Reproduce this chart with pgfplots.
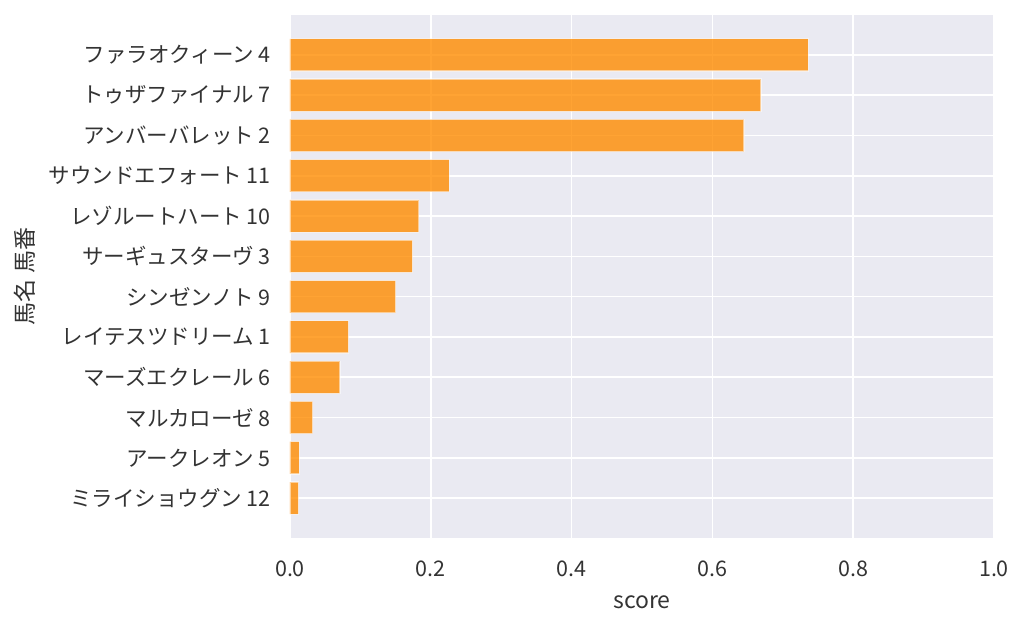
\documentclass[border=0pt]{standalone}
\usepackage{fontspec}
\setmainfont{Noto Sans CJK JP}
\usepackage{pgfplots}
\pgfplotsset{compat=1.18}
\definecolor{bgc}{RGB}{234,234,242}
\definecolor{barc}{RGB}{255,140,0}
\begin{document}
\begin{tikzpicture}
\path[use as bounding box] (-290pt,-89pt) rectangle (734pt,538pt);
\begin{axis}[
  at={(0pt,0pt)}, anchor=south west,
  scale only axis, width=704pt, height=523pt,
  xbar, bar width=0.8,
  y dir=reverse,
  xmin=0, xmax=1, ymin=-0.99, ymax=11.99,
  xtick={0,0.2,0.4,0.6,0.8,1.0},
  ytick={0,1,2,3,4,5,6,7,8,9,10,11},
  yticklabels={ファラオクィーン 4,トゥザファイナル 7,アンバーバレット 2,サウンドエフォート 11,レゾルートハート 10,サーギュスターヴ 3,シンゼンノト 9,レイテスツドリーム 1,マーズエクレール 6,マルカローゼ 8,アークレオン 5,ミライショウグン 12},
  /pgf/number format/assume math mode=true,
  xticklabel={\pgfmathprintnumber[fixed,fixed zerofill,precision=1]{\tick}},
  axis background/.style={fill=bgc},
  axis line style={draw=none},
  major tick length=0pt,
  grid=major,
  major grid style={white, line width=1.6pt},
  tick label style={font=\fontsize{21.5}{25}\selectfont, text=black!80},
  xticklabel style={inner sep=0pt, anchor=north, yshift=-23pt},
  yticklabel style={inner sep=0pt, anchor=east, xshift=-19pt},
  xlabel={score},
  ylabel={馬名 馬番},
  label style={font=\fontsize{23}{27}\selectfont, text=black!80},
  xlabel style={at={(axis description cs:0.5,0)}, anchor=base, yshift=-70pt},
  ylabel style={at={(axis description cs:-0.3764,0.5)}, anchor=center},
]
\addplot[fill=barc, fill opacity=0.8, draw=white, draw opacity=0.5, line width=1.2pt] coordinates {
(0.736,0) (0.669,1) (0.645,2) (0.226,3) (0.183,4) (0.174,5) (0.150,6) (0.083,7) (0.071,8) (0.032,9) (0.013,10) (0.012,11)
};
\end{axis}
\end{tikzpicture}
\end{document}
